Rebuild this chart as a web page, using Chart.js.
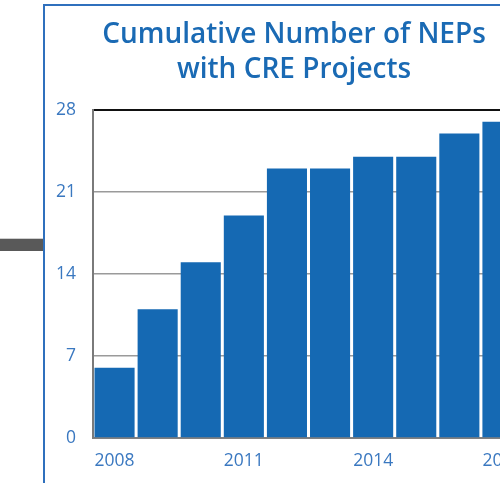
<!DOCTYPE html>
<html>
<head>
<meta charset="utf-8">
<script src="https://cdn.jsdelivr.net/npm/chart.js@4"></script>
<style>
  html, body { margin:0; padding:0; background:#fff; width:500px; height:483px; overflow:hidden; position:relative; }
  #frame { position:absolute; left:43px; top:4px; width:600px; height:600px; border-left:2px solid #2f70bd; border-top:2px solid #2f70bd; }
  #bar { position:absolute; left:0; top:238px; width:43px; height:12px; background:#595959; border-top:1px solid #cfcfcf; }
  #wrap { position:absolute; left:45px; top:6px; width:498px; height:477px; }
</style>
</head>
<body>
<div id="bar"></div>
<div id="frame"></div>
<div id="wrap"><canvas id="c"></canvas></div>
<script>
const titleLines = ["Cumulative Number of NEPs", "with CRE Projects"];
const years = ["2008","2009","2010","2011","2012","2013","2014","2015","2016","2017"];
const counts = [6, 11, 15, 19, 23, 23, 24, 24, 26, 27];
const yTicks = [0, 7, 14, 21, 28];

const widenLabelArea = {
  id: 'widenLabelArea',
  afterLayout(chart) { chart.scales.y.left = 0; }
};

new Chart(document.getElementById('c'), {
  type: 'bar',
  data: {
    labels: years,
    datasets: [{
      data: counts,
      backgroundColor: '#1569b3',
      borderWidth: 0,
      categoryPercentage: 1.0,
      barPercentage: 0.93
    }]
  },
  plugins: [widenLabelArea],
  options: {
    responsive: true,
    maintainAspectRatio: false,
    animation: false,
    layout: { padding: { left: 19, right: 19, top: 0, bottom: 0 } },
    plugins: {
      legend: { display: false },
      tooltip: { enabled: false },
      title: {
        display: true,
        text: titleLines,
        color: '#1a6ab4',
        font: { family: 'Open Sans', size: 28, weight: '600', lineHeight: 1.25 },
        padding: { top: 12, bottom: 22 }
      }
    },
    scales: {
      x: {
        grid: { display: false, drawTicks: false },
        border: { display: true, color: '#808080', width: 2 },
        ticks: {
          color: '#3a78c0',
          font: { family: 'Open Sans', size: 17.5 },
          padding: 13,
          maxRotation: 0,
          autoSkip: false,
          callback: function(v, i) { return i % 3 === 0 ? years[i] : ''; }
        },
        afterFit: function(s) { s.height = 45; }
      },
      y: {
        min: 0, max: 28,
        afterBuildTicks: function(s) { s.ticks = yTicks.map(v => ({ value: v })); },
        grid: {
          drawTicks: false,
          color: function(ctx) { return ctx.tick && ctx.tick.value === 28 ? '#111111' : '#9a9a9a'; },
          lineWidth: function(ctx) { return ctx.tick && ctx.tick.value === 28 ? 2 : 1.5; }
        },
        border: { display: true, color: '#7a7a7a', width: 2 },
        ticks: {
          color: '#3a78c0',
          font: { family: 'Open Sans', size: 17.5 },
          padding: 17
        },
        afterFit: function(s) { s.width = 29; }
      }
    }
  }
});
</script>
</body>
</html>
